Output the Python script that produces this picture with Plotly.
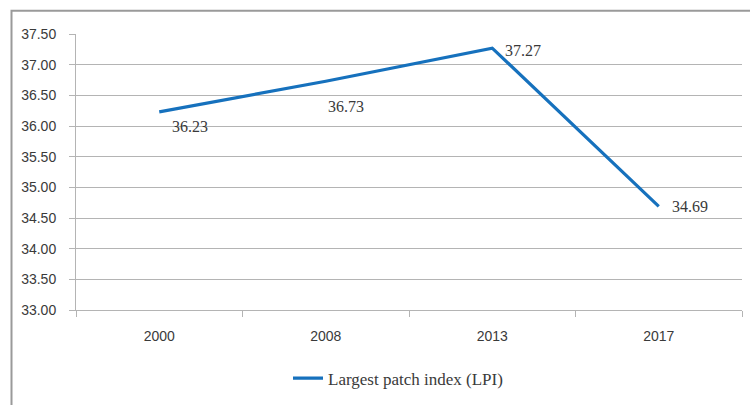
import plotly.graph_objects as go

# Largest patch index by year
years = ["2000", "2008", "2013", "2017"]
lpi = [36.23, 36.73, 37.27, 34.69]
series_name = "Largest patch index (LPI)"

# y-axis ticks
y_ticks = [33.0, 33.5, 34.0, 34.5, 35.0, 35.5, 36.0, 36.5, 37.0, 37.5]
y_tick_text = [f"{v:.2f}" for v in y_ticks]

# per-label offsets (pixels) for the value labels
label_dx = [31, 20, 31, 31]
label_dy = [-15, -25, -2, 0]

line_color = "#1671bd"
grid_color = "#b4b4b4"
text_color = "#3a3a3a"
serif = "Liberation Serif"
sans = "Liberation Sans"

W, H = 750, 405
L, R, T, B = 76, 8, 34, 93

fig = go.Figure()
fig.add_trace(go.Scatter(
    x=years, y=lpi, mode="lines", name=series_name,
    line=dict(color=line_color, width=3.2),
))

# value labels, placed by category index so numeric-looking years stay categorical
for i, (v, dx, dy) in enumerate(zip(lpi, label_dx, label_dy)):
    fig.add_annotation(
        x=i, y=v, text=f"{v:.2f}", showarrow=False,
        xshift=dx, yshift=dy,
        font=dict(family=serif, size=16, color=text_color),
    )

# outer frame around the chart
pw, ph = W - L - R, H - T - B
fig.add_shape(
    type="rect", xref="paper", yref="paper",
    x0=(11.5 - L) / pw, x1=(W + 5 - L) / pw,
    y0=-(H + 5 - (H - B)) / ph, y1=1 + (T - 10.5) / ph,
    line=dict(color="#9a9a9a", width=2),
)

fig.update_layout(
    width=W, height=H,
    margin=dict(l=L, r=R, t=T, b=B),
    paper_bgcolor="white", plot_bgcolor="white",
    showlegend=True,
    legend=dict(
        x=(288 - L) / pw, xanchor="left",
        y=-(381 - (H - B)) / ph, yanchor="middle",
        orientation="h",
        font=dict(family=serif, size=17, color=text_color),
        itemwidth=30,
    ),
    xaxis=dict(
        type="category", categoryorder="array", categoryarray=years,
        range=[-0.5, len(years) - 0.5], tickson="boundaries",
        showline=True, linecolor=grid_color, linewidth=1,
        ticks="outside", ticklen=6, tickcolor=grid_color,
        showgrid=False, ticklabelstandoff=13, tickangle=0,
        tickfont=dict(family=sans, size=14, color=text_color),
    ),
    yaxis=dict(
        range=[33.0, 37.5], tickvals=y_ticks, ticktext=y_tick_text,
        showgrid=True, gridcolor=grid_color, gridwidth=1,
        showline=True, linecolor=grid_color, linewidth=1,
        ticks="outside", ticklen=6, tickcolor=grid_color,
        ticklabelstandoff=10, zeroline=False,
        tickfont=dict(family=sans, size=14, color=text_color),
    ),
)

fig.write_html("out.html")
